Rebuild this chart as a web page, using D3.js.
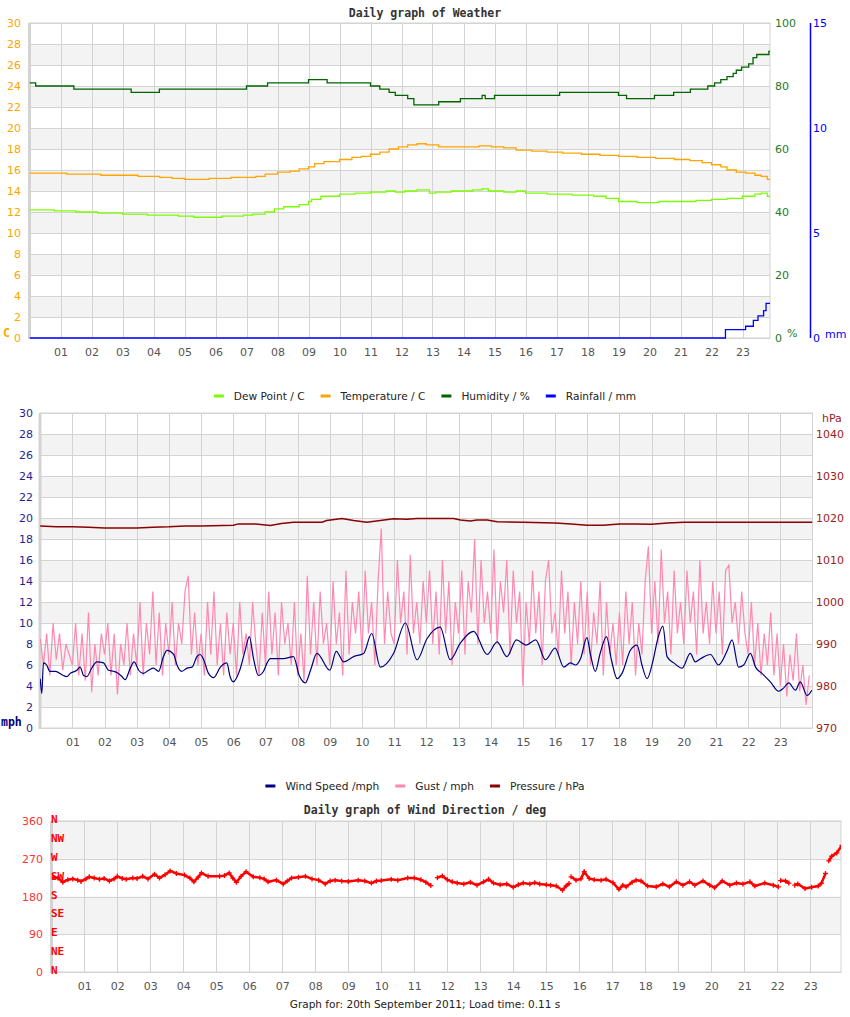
<!DOCTYPE html>
<html>
<head>
<meta charset="utf-8">
<script src="https://cdn.jsdelivr.net/npm/d3@7"></script>
<style>
  body { margin: 0; background: #fff; }
  text { font-family: "DejaVu Sans", sans-serif; }
  .mono { font-family: "DejaVu Sans Mono", monospace; font-weight: bold; }
</style>
</head>
<body>
<svg id="chart" width="850" height="1017"></svg>
<script>
// ---- weather panel data (hour of day, value) ----
const tempHours = [0, 1.2, 2.3, 3.5, 4.2, 4.6, 5.0, 5.8, 6.5, 7.3, 7.6, 8.0, 8.4, 8.7, 9.0, 9.2, 9.5, 10.0, 10.4, 10.7, 11.0, 11.3, 11.6, 11.9, 12.2, 12.5, 12.8, 13.2, 14.5, 14.9, 15.3, 15.7, 16.2, 16.7, 17.2, 17.8, 18.4, 19.0, 19.6, 20.2, 20.8, 21.3, 21.7, 22.0, 22.3, 22.5, 22.8, 23.1, 23.4, 23.6, 23.8, 23.9];
const tempC = [15.7, 15.6, 15.5, 15.4, 15.3, 15.2, 15.1, 15.2, 15.3, 15.4, 15.6, 15.8, 15.9, 16.1, 16.3, 16.6, 16.8, 17.0, 17.2, 17.3, 17.5, 17.7, 18.0, 18.2, 18.4, 18.5, 18.4, 18.2, 18.3, 18.2, 18.1, 17.9, 17.8, 17.7, 17.6, 17.5, 17.4, 17.3, 17.2, 17.1, 17.0, 16.9, 16.7, 16.5, 16.3, 16.0, 15.8, 15.7, 15.5, 15.4, 15.1, 15.0];

const dewHours = [0, 0.8, 1.5, 2.2, 3.0, 3.8, 4.8, 5.3, 6.2, 6.9, 7.2, 7.6, 7.9, 8.2, 8.7, 9.0, 9.1, 9.4, 10.0, 10.5, 11.0, 11.5, 11.8, 12.1, 12.5, 12.9, 13.1, 13.6, 14.3, 14.6, 14.8, 15.3, 15.7, 16.0, 16.7, 17.5, 18.2, 18.6, 19.0, 19.6, 20.3, 21.0, 21.5, 22.0, 22.5, 23.0, 23.4, 23.6, 23.8, 23.9];
const dewC = [12.2, 12.1, 12.0, 11.9, 11.8, 11.7, 11.6, 11.5, 11.6, 11.7, 11.8, 12.0, 12.3, 12.5, 12.7, 13.0, 13.2, 13.5, 13.7, 13.8, 13.9, 14.0, 13.9, 14.0, 14.1, 13.8, 13.9, 14.0, 14.1, 14.2, 14.0, 13.9, 14.0, 13.8, 13.7, 13.6, 13.5, 13.3, 13.0, 12.9, 13.0, 13.0, 13.1, 13.2, 13.3, 13.5, 13.7, 13.8, 13.5, 13.3];

const humHours = [0, 0.2, 1.43, 3.28, 4.19, 7.0, 7.68, 9.0, 9.6, 11.0, 11.3, 11.6, 11.8, 12.2, 12.4, 13.2, 13.9, 14.6, 14.7, 15.0, 17.1, 19.0, 19.26, 20.16, 20.78, 21.32, 21.88, 22.1, 22.3, 22.5, 22.7, 22.8, 22.97, 23.2, 23.34, 23.46, 23.85, 23.9];
const humPct = [81, 80, 79, 78, 79, 80, 81, 82, 81, 80, 79, 78, 77, 76, 74, 75, 76, 77, 76, 77, 78, 77, 76, 77, 78, 79, 80, 81, 82, 83, 84, 85, 86, 87, 89, 90, 91, 91];

const rainHours = [0, 22.45, 23.1, 23.35, 23.5, 23.68, 23.76, 23.9];
const rainMm = [0, 0.4, 0.56, 0.84, 1.05, 1.3, 1.65, 1.65];

// ---- wind panel data ----
const windHours = [0.0, 0.05, 0.1, 0.2, 0.3, 0.47, 0.72, 0.83, 0.93, 1.14, 1.24, 1.35, 1.45, 1.6, 1.76, 1.97, 2.12, 2.28, 2.43, 2.54, 2.64, 2.8, 2.92, 3.06, 3.2, 3.37, 3.52, 3.68, 3.83, 3.94, 4.15, 4.25, 4.4, 4.56, 4.72, 4.87, 4.97, 5.08, 5.23, 5.39, 5.6, 5.8, 5.9, 6.0, 6.2, 6.37, 6.5, 6.63, 6.78, 6.94, 7.05, 7.15, 7.56, 7.87, 8.05, 8.24, 8.4, 8.6, 9.0, 9.2, 9.43, 9.74, 10.05, 10.3, 10.57, 10.98, 11.35, 11.71, 12.02, 12.43, 12.74, 13.06, 13.47, 13.89, 14.2, 14.5, 14.8, 15.1, 15.4, 15.7, 16.0, 16.27, 16.48, 16.64, 16.79, 16.99, 17.1, 17.25, 17.4, 17.6, 17.75, 17.93, 18.08, 18.34, 18.55, 18.7, 18.86, 19.05, 19.2, 19.35, 19.48, 19.69, 19.95, 20.2, 20.36, 20.52, 20.83, 21.08, 21.34, 21.5, 21.7, 21.86, 22.07, 22.23, 22.43, 22.69, 22.95, 23.1, 23.26, 23.47, 23.62, 23.83, 23.98];
const windMph = [4.7, 3.3, 6.2, 6.0, 5.4, 5.4, 5.0, 4.9, 5.2, 5.5, 5.8, 5.0, 4.9, 5.7, 6.3, 6.2, 5.5, 5.4, 5.2, 4.9, 4.6, 5.7, 6.3, 5.5, 5.2, 5.5, 5.7, 5.4, 6.8, 7.4, 7.0, 6.0, 5.4, 5.7, 5.8, 6.8, 7.0, 6.5, 5.2, 4.8, 5.8, 6.2, 4.9, 4.4, 5.5, 7.4, 8.7, 6.6, 5.0, 5.4, 6.2, 6.6, 6.6, 6.8, 5.0, 4.3, 5.5, 7.1, 5.5, 7.3, 6.3, 6.8, 7.1, 9.0, 5.8, 7.1, 10.0, 6.5, 8.5, 9.6, 6.5, 8.1, 9.2, 7.0, 8.2, 6.8, 8.4, 7.9, 8.4, 6.5, 7.6, 5.8, 6.2, 6.0, 6.6, 8.6, 7.0, 5.4, 7.1, 8.7, 6.5, 4.7, 5.2, 7.4, 7.9, 6.0, 4.7, 6.5, 8.6, 9.7, 6.8, 6.2, 5.7, 7.1, 6.3, 6.6, 7.0, 6.0, 7.3, 8.4, 5.8, 6.0, 7.1, 5.8, 5.2, 4.4, 3.5, 3.8, 4.3, 3.6, 4.4, 3.1, 3.6];

// gust sampled every 6 minutes, from 00:00
const gustMph = [
  8.5, 6, 9, 5, 10, 6.5, 9, 5.5, 8, 7,
  6, 10, 5, 9, 4.5, 11, 3.4, 8, 5, 9,
  7, 10, 5, 9, 3.2, 8, 6, 10, 5, 9,
  6, 12, 5, 10, 7, 13, 6, 11, 5, 10,
  7, 12, 6, 10, 8, 13, 14.5, 7, 11, 6,
  9, 5, 12, 7, 13, 6, 10, 5, 11, 7,
  10, 5, 12, 7, 9, 6, 12, 8, 5, 11,
  6, 13, 7, 11, 5, 12, 8, 10, 6, 12,
  5, 9, 4.5, 14.5, 7, 12, 6, 13, 8, 10,
  6, 14, 8, 11, 5, 15, 7, 12, 9, 13,
  7, 15, 9, 12, 6, 14, 19, 8, 13, 9,
  8, 16, 10, 13, 7, 16.5, 9, 12, 8, 14,
  10, 15, 8, 13, 7, 16, 9, 14, 6, 12,
  9, 15, 7, 14, 11, 18, 8, 16, 10, 13,
  9, 17, 8, 14, 11, 16, 7, 15, 10, 13,
  4, 12, 8, 15, 9, 13, 6, 14, 16, 9,
  11, 7, 15, 9, 13, 6, 12, 8, 14, 7,
  13, 6, 11, 8, 14, 5, 12, 7, 10, 6,
  11, 6, 13, 8, 12, 5, 10, 7, 14, 17.3,
  9, 14, 8, 17, 10, 13, 7, 15, 9, 12,
  8, 15, 10, 13, 7, 16, 9, 12, 8, 14,
  9, 13, 7, 15, 15.5, 10, 12, 8, 13, 9,
  7, 12, 6, 10, 5, 9, 6, 11, 5, 9,
  4, 8, 3, 7, 4.5, 9, 3.5, 6, 2.2, 5
];

const pressHours = [0, 0.5, 1, 1.5, 2, 2.5, 3, 3.5, 4, 4.5, 5, 6, 6.16, 6.7, 7.15, 7.5, 7.87, 8.76, 8.9, 9.38, 9.74, 10.15, 10.57, 10.98, 11.4, 11.71, 12.85, 13.06, 13.37, 13.57, 13.89, 14.2, 15, 16, 16.5, 17, 17.5, 18, 18.5, 19, 19.5, 20, 21, 22, 23, 24];
const pressHpa = [1018.1, 1017.9, 1017.9, 1017.8, 1017.6, 1017.6, 1017.6, 1017.8, 1017.9, 1018.1, 1018.1, 1018.3, 1018.6, 1018.6, 1018.2, 1018.7, 1019.0, 1019.0, 1019.4, 1019.9, 1019.4, 1019.0, 1019.4, 1019.8, 1019.7, 1019.9, 1019.9, 1019.5, 1019.3, 1019.5, 1019.5, 1019.1, 1019.0, 1018.8, 1018.6, 1018.3, 1018.3, 1018.6, 1018.6, 1018.5, 1018.8, 1019.0, 1019.0, 1019.0, 1019.0, 1019.0];

// ---- wind direction data (null = gap) ----
const dirHours = [0.05, 0.2, 0.35, 0.5, 0.65, 0.8, 0.9, 1.05, 1.15, 1.3, 1.46, 1.6, 1.76, 1.9, 2.0, 2.15, 2.27, 2.47, 2.6, 2.77, 2.93, 3.13, 3.28, 3.45, 3.6, 3.79, 4.04, 4.2, 4.32, 4.45, 4.55, 4.75, 5.1, 5.25, 5.39, 5.5, 5.61, 5.75, 5.9, 6.12, 6.32, 6.45, 6.57, 6.82, 7.03, 7.15, 7.28, 7.49, 7.7, 7.9, 8.1, 8.3, 8.45, 8.6, 8.8, 9.0, 9.3, 9.5, 9.7, 9.85, 10.0, 10.3, 10.5, 10.8, 11.0, 11.2, 11.35, 11.5, 11.6, 11.7, 11.85, 12.0, 12.15, 12.3, 12.5, 12.7, 12.9, 13.1, 13.25, 13.4, 13.6, 13.8, 14.0, 14.15, 14.3, 14.5, 14.65, 14.8, 15.0, 15.13, 15.3, 15.49, 15.6, 15.69, 15.72, 15.75, 15.9, 16.05, 16.15, 16.3, 16.45, 16.66, 16.81, 17.02, 17.2, 17.32, 17.42, 17.6, 17.72, 17.87, 18.07, 18.33, 18.53, 18.73, 18.94, 19.14, 19.34, 19.5, 19.75, 19.95, 20.1, 20.33, 20.56, 20.76, 20.96, 21.17, 21.32, 21.62, 21.88, 22.03, 22.06, 22.1, 22.25, 22.35, 22.45, 22.53, 22.62, 22.84, 23.04, 23.24, 23.34, 23.46, 23.5, 23.56, 23.65, 23.8, 23.96];
const dirDeg = [226, 224, 214, 220, 222, 219, 216, 222, 227, 224, 221, 223, 217, 222, 228, 223, 221, 224, 223, 228, 222, 233, 224, 232, 241, 235, 231, 224, 215, 226, 236, 228, 228, 230, 236, 224, 214, 228, 239, 227, 225, 222, 215, 219, 210, 217, 224, 226, 228, 222, 219, 210, 217, 219, 217, 216, 219, 217, 212, 217, 218, 221, 219, 224, 224, 220, 214, 206, null, 225, 229, 220, 215, 212, 210, 214, 207, 215, 221, 212, 208, 210, 202, 208, 212, 210, 213, 210, 208, 207, 205, 195, 205, 211, null, 227, 219, 222, 239, 223, 220, 219, 221, 213, 197, 207, 203, 214, 219, 217, 205, 203, 210, 203, 215, 207, 215, 207, 217, 207, 201, 217, 207, 212, 210, 215, 205, 212, 207, 203, null, 218, 217, 212, null, 207, 210, 199, 202, 205, 212, 235, null, 265, 276, 284, 302];

const hourTicks = d3.range(1, 24);
const hourLabel = h => (h < 10 ? "0" : "") + h;
const compass = ["N", "NE", "E", "SE", "S", "SW", "W", "NW", "N"];

const legend1 = [
  { name: "Dew Point / C", color: "#7cfc00" },
  { name: "Temperature / C", color: "#ffa500" },
  { name: "Humidity / %", color: "#006400" },
  { name: "Rainfall / mm", color: "#0000ff" }
];
const legend2 = [
  { name: "Wind Speed /mph", color: "#000080" },
  { name: "Gust / mph", color: "#ff88b0" },
  { name: "Pressure / hPa", color: "#8b0000" }
];

const svg = d3.select("#chart");
const gridColor = "#d3d3d3";
const bandColor = "#f3f3f3";

// draws bands, grid and frame of one plot area
function drawPlot(p) {
  const g = svg.append("g");
  const [x0, x1] = [p.left, p.right];
  p.bands.forEach(b => {
    g.append("rect")
      .attr("x", x0).attr("width", x1 - x0)
      .attr("y", p.y(b[1])).attr("height", p.y(b[0]) - p.y(b[1]))
      .attr("fill", bandColor);
  });
  g.selectAll(".hg").data(p.yTicks).enter().append("line")
    .attr("x1", x0).attr("x2", x1)
    .attr("y1", d => Math.round(p.y(d)) + 0.5).attr("y2", d => Math.round(p.y(d)) + 0.5)
    .attr("stroke", gridColor);
  g.selectAll(".vg").data(hourTicks).enter().append("line")
    .attr("x1", d => Math.round(p.x(d)) + 0.5).attr("x2", d => Math.round(p.x(d)) + 0.5)
    .attr("y1", p.top).attr("y2", p.bottom)
    .attr("stroke", gridColor);
  g.append("rect")
    .attr("x", x0).attr("y", p.top)
    .attr("width", x1 - x0).attr("height", p.bottom - p.top)
    .attr("fill", "none").attr("stroke", gridColor);
  g.append("line")
    .attr("x1", x0).attr("x2", x0).attr("y1", p.top).attr("y2", p.bottom + 1)
    .attr("stroke", gridColor).attr("stroke-width", 3);

  // hour labels
  svg.append("g")
    .attr("transform", `translate(0,${p.bottom})`)
    .call(d3.axisBottom(p.x).tickValues(hourTicks).tickFormat(hourLabel).tickSize(0).tickPadding(10))
    .call(a => a.select(".domain").remove())
    .selectAll("text").attr("fill", "#555").attr("font-size", 11).attr("font-family", "DejaVu Sans");

  svg.append("clipPath").attr("id", p.id)
    .append("rect").attr("x", x0).attr("y", p.top - 2)
    .attr("width", x1 - x0).attr("height", p.bottom - p.top + 4);
}

function valueAxis(axis, xPos, color) {
  svg.append("g")
    .attr("transform", `translate(${xPos},0)`)
    .call(axis.tickSize(0).tickPadding(0).tickFormat(d3.format("d")))
    .call(a => a.select(".domain").remove())
    .selectAll("text").attr("fill", color).attr("font-size", 11).attr("font-family", "DejaVu Sans");
}

function drawLegend(items, cy) {
  const lg = svg.append("g");
  let xPos = 0;
  items.forEach(it => {
    const item = lg.append("g").attr("transform", `translate(${xPos},0)`);
    item.append("rect").attr("x", 0).attr("y", cy - 1.5).attr("width", 10).attr("height", 3).attr("fill", it.color);
    const t = item.append("text").attr("x", 20).attr("y", cy + 4)
      .attr("font-size", 10.6).attr("fill", "#222").text(it.name);
    xPos += 20 + t.node().getComputedTextLength() + 16;
  });
  const w = xPos - 16;
  lg.attr("transform", `translate(${425 - w / 2},0)`);
}

const title = (txt, y) => svg.append("text").attr("class", "mono")
  .attr("x", 425).attr("y", y).attr("text-anchor", "middle")
  .attr("font-size", 11.5).attr("fill", "#333").text(txt);

// ================= Panel 1: weather =================
const p1 = { id: "clip1", left: 29.5, right: 770, top: 23, bottom: 338 };
p1.x = d3.scaleLinear().domain([0, 24]).range([29.5, 773.5]);
p1.y = d3.scaleLinear().domain([0, 30]).range([338, 23]);
p1.yTicks = d3.range(0, 31, 2);
p1.bands = d3.range(2, 30, 4).map(v => [v, v + 2]);
const humY = d3.scaleLinear().domain([0, 100]).range([338, 23]);
const rainY = d3.scaleLinear().domain([0, 15]).range([338, 23]);

title("Daily graph of Weather", 17);
drawPlot(p1);
valueAxis(d3.axisLeft(p1.y).tickValues(p1.yTicks), 21, "#ffa500");
valueAxis(d3.axisRight(humY).tickValues(d3.range(0, 101, 20)), 775, "#237a23");
valueAxis(d3.axisRight(rainY).tickValues([0, 5, 10, 15]), 813, "#0000ff");
svg.append("line").attr("x1", 810.5).attr("x2", 810.5).attr("y1", 23).attr("y2", 338)
  .attr("stroke", "#0000ff").attr("stroke-width", 1.5);
svg.append("text").attr("class", "mono").attr("x", 3).attr("y", 337).attr("font-size", 11.5).attr("fill", "#ffa500").text("C");
svg.append("text").attr("x", 787).attr("y", 337).attr("font-size", 11).attr("fill", "#237a23").text("%");
svg.append("text").attr("x", 825).attr("y", 338).attr("font-size", 11).attr("fill", "#0000ff").text("mm");

const plot1 = svg.append("g").attr("clip-path", "url(#clip1)");
function stepLine(g, hrs, vals, x, y, color) {
  g.append("path")
    .datum(d3.zip(hrs, vals))
    .attr("fill", "none").attr("stroke", color).attr("stroke-width", 1.3)
    .attr("d", d3.line().x(d => x(d[0])).y(d => y(d[1])).curve(d3.curveStepAfter));
}
stepLine(plot1, dewHours, dewC, p1.x, p1.y, "#7cfc00");
stepLine(plot1, tempHours, tempC, p1.x, p1.y, "#ffa500");
stepLine(plot1, humHours, humPct, p1.x, humY, "#006400");
stepLine(plot1, rainHours, rainMm, p1.x, rainY, "#0000ff");

// ================= Panel 2: wind =================
const p2 = { id: "clip2", left: 40, right: 812.5, top: 413, bottom: 728 };
p2.x = d3.scaleLinear().domain([0, 24]).range([40.2, 812.5]);
p2.y = d3.scaleLinear().domain([0, 30]).range([728, 413]);
p2.yTicks = d3.range(0, 31, 2);
p2.bands = d3.range(2, 30, 4).map(v => [v, v + 2]);
const pressY = d3.scaleLinear().domain([970, 1045]).range([728, 413]);

drawLegend(legend1, 396);

drawPlot(p2);
valueAxis(d3.axisLeft(p2.y).tickValues(p2.yTicks), 33, "#1f1f8f");
valueAxis(d3.axisRight(pressY).tickValues(d3.range(970, 1041, 10)), 816, "#9b1c1c");
svg.append("text").attr("x", 822).attr("y", 422).attr("font-size", 11).attr("fill", "#9b1c1c").text("hPa");
svg.append("text").attr("class", "mono").attr("x", 1).attr("y", 726).attr("font-size", 11.5).attr("fill", "#000080").text("mph");

const plot2 = svg.append("g").attr("clip-path", "url(#clip2)");
plot2.append("path")
  .datum(gustMph)
  .attr("fill", "none").attr("stroke", "#ff88b0").attr("stroke-width", 1.2)
  .attr("d", d3.line().x((d, i) => p2.x(i * 0.1)).y(d => p2.y(d)));
plot2.append("path")
  .datum(d3.zip(windHours, windMph))
  .attr("fill", "none").attr("stroke", "#000080").attr("stroke-width", 1.2)
  .attr("d", d3.line().x(d => p2.x(d[0])).y(d => p2.y(d[1])).curve(d3.curveMonotoneX));
plot2.append("path")
  .datum(d3.zip(pressHours, pressHpa))
  .attr("fill", "none").attr("stroke", "#8b0000").attr("stroke-width", 1.5)
  .attr("d", d3.line().x(d => p2.x(d[0])).y(d => pressY(d[1])));

drawLegend(legend2, 786);

// ================= Panel 3: wind direction =================
const p3 = { id: "clip3", left: 51.5, right: 841, top: 821, bottom: 972 };
p3.x = d3.scaleLinear().domain([0, 24]).range([51.3, 843.3]);
p3.y = d3.scaleLinear().domain([0, 360]).range([972, 821]);
p3.yTicks = [0, 90, 180, 270, 360];
p3.bands = [[90, 180], [270, 360]];

title("Daily graph of Wind Direction / deg", 814);
drawPlot(p3);
valueAxis(d3.axisLeft(p3.y).tickValues(p3.yTicks), 43, "#ff3333");
svg.append("g").selectAll("text").data(compass).enter().append("text")
  .attr("class", "mono")
  .attr("x", 51)
  .attr("y", (d, i) => p3.y(i * 45) + 2)
  .attr("font-size", 11).attr("fill", "#ff0000").text(d => d);

const plot3 = svg.append("g").attr("clip-path", "url(#clip3)");
const dirData = d3.zip(dirHours, dirDeg);
plot3.append("path")
  .datum(dirData)
  .attr("fill", "none").attr("stroke", "#ff0000").attr("stroke-width", 2.5)
  .attr("d", d3.line().defined(d => d[1] != null).x(d => p3.x(d[0])).y(d => p3.y(d[1])));
plot3.selectAll(".mk").data(dirData.filter(d => d[1] != null)).enter().append("path")
  .attr("transform", d => `translate(${p3.x(d[0])},${p3.y(d[1])})`)
  .attr("d", "M-2.5,0H2.5M0,-2.5V2.5")
  .attr("stroke", "#ff0000").attr("stroke-width", 1.3);

svg.append("text").attr("x", 425).attr("y", 1008).attr("text-anchor", "middle")
  .attr("font-size", 10.5).attr("fill", "#222")
  .text("Graph for: 20th September 2011; Load time: 0.11 s");
</script>
</body>
</html>
